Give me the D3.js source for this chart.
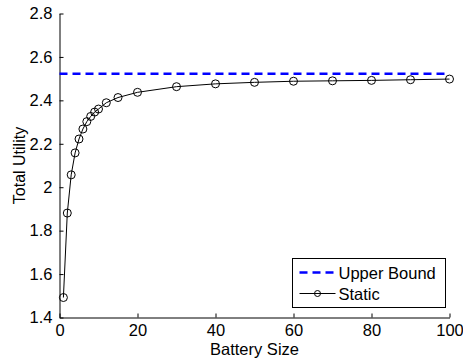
<!DOCTYPE html>
<html>
<head>
    <script src="https://cdnjs.cloudflare.com/ajax/libs/d3/7.8.5/d3.min.js"></script>
    <style>
        body { margin: 0; background: #fff; }
        svg { display: block; background: #fff; }
        text { font-family: Arial, "Liberation Sans", Helvetica, sans-serif; fill: #000; }
    </style>
</head>
<body>
    <svg width="463" height="358"></svg>
    <script>
        // Data
        const batterySize = [1, 2, 3, 4, 5, 6, 7, 8, 9, 10, 12, 15, 20, 30, 40, 50, 60, 70, 80, 90, 100];
        const staticUtility = [1.492, 1.881, 2.057, 2.158, 2.222, 2.268, 2.302, 2.326, 2.346, 2.36, 2.389,
            2.413, 2.437, 2.463, 2.476, 2.483, 2.488, 2.49, 2.492, 2.495, 2.498];
        const upperBound = 2.522;
        const xTicks = [0, 20, 40, 60, 80, 100];
        const yTicks = [1.4, 1.6, 1.8, 2, 2.2, 2.4, 2.6, 2.8];

        const svg = d3.select("svg");
        const x = d3.scaleLinear().domain([0, 100]).range([59.5, 449.5]);
        const y = d3.scaleLinear().domain([1.4, 2.8]).range([317.5, 13.5]);
        const fontSize = 16.5;

        // Axes (ticks inward, MATLAB style)
        const xAxis = svg.append("g")
            .attr("transform", `translate(0,${y(1.4)})`)
            .call(d3.axisBottom(x).tickValues(xTicks).tickSizeInner(-4).tickSizeOuter(0).tickPadding(7)
                .tickFormat(d3.format("d")));
        const yAxis = svg.append("g")
            .attr("transform", `translate(${x(0)},0)`)
            .call(d3.axisLeft(y).tickValues(yTicks).tickSizeInner(-4).tickSizeOuter(0).tickPadding(7)
                .tickFormat(d => d3.format("")(+d.toFixed(1))));
        [xAxis, yAxis].forEach(g => {
            g.select(".domain").attr("stroke", "#000");
            g.selectAll(".tick line").attr("stroke", "#000");
            g.selectAll(".tick text").attr("font-size", fontSize).attr("font-family", null).attr("fill", "#000");
        });

        // Axis labels
        svg.append("text")
            .attr("x", x(50)).attr("y", 355)
            .attr("text-anchor", "middle")
            .attr("font-size", fontSize)
            .text("Battery Size");
        svg.append("text")
            .attr("transform", `translate(25,${(y(1.4) + y(2.8)) / 2}) rotate(-90)`)
            .attr("text-anchor", "middle")
            .attr("font-size", 16)
            .text("Total Utility");

        // Upper bound line
        svg.append("line")
            .attr("x1", x(0)).attr("x2", x(100))
            .attr("y1", y(upperBound)).attr("y2", y(upperBound))
            .attr("stroke", "#0000ff")
            .attr("stroke-width", 2.5)
            .attr("stroke-dasharray", "8,5");

        // Static series
        const pts = batterySize.map((b, i) => [b, staticUtility[i]]);
        svg.append("path")
            .datum(pts)
            .attr("fill", "none")
            .attr("stroke", "#000")
            .attr("stroke-width", 1)
            .attr("d", d3.line().x(d => x(d[0])).y(d => y(d[1])));
        svg.append("g")
            .selectAll("circle")
            .data(pts)
            .join("circle")
            .attr("cx", d => x(d[0]))
            .attr("cy", d => y(d[1]))
            .attr("r", 4)
            .attr("fill", "none")
            .attr("stroke", "#000")
            .attr("stroke-width", 1);

        // Legend
        const legend = svg.append("g").attr("transform", "translate(292.5,258.5)");
        legend.append("rect")
            .attr("width", 153).attr("height", 49)
            .attr("fill", "#fff").attr("stroke", "#000").attr("stroke-width", 1);
        legend.append("line")
            .attr("x1", 7).attr("x2", 43).attr("y1", 14).attr("y2", 14)
            .attr("stroke", "#0000ff").attr("stroke-width", 2.5).attr("stroke-dasharray", "8,5");
        legend.append("text")
            .attr("x", 46).attr("y", 20).attr("font-size", fontSize).text("Upper Bound");
        legend.append("line")
            .attr("x1", 7).attr("x2", 43).attr("y1", 35).attr("y2", 35)
            .attr("stroke", "#000").attr("stroke-width", 1);
        legend.append("circle")
            .attr("cx", 25).attr("cy", 35).attr("r", 3)
            .attr("fill", "none").attr("stroke", "#000");
        legend.append("text")
            .attr("x", 46).attr("y", 41).attr("font-size", fontSize).text("Static");
    </script>
</body>
</html>
